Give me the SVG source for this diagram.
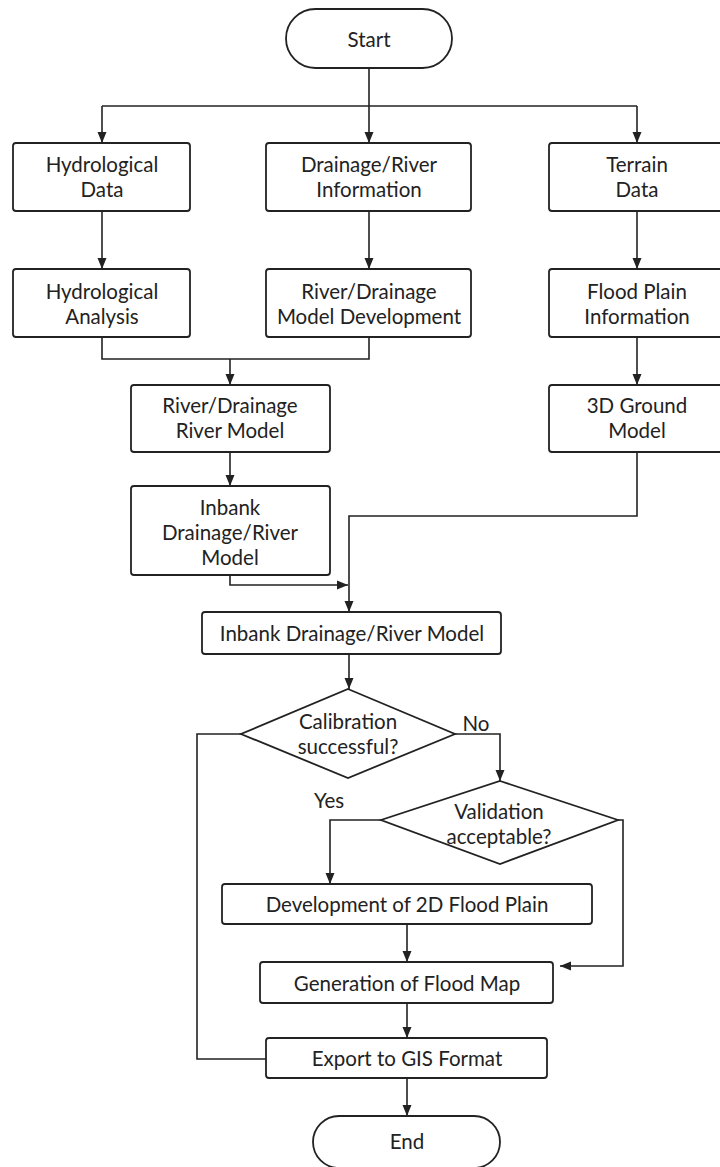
<svg xmlns="http://www.w3.org/2000/svg" width="720" height="1167" viewBox="0 0 720 1167">
<style>
.box{fill:#fff;stroke:#222;stroke-width:1.8}
.t{font-family:Lato,"Noto Sans",sans-serif;font-size:20.5px;fill:#222;text-anchor:middle;dominant-baseline:central}
.c{fill:none;stroke:#222;stroke-width:1.6}
</style>
<defs>
<marker id="ah" markerUnits="userSpaceOnUse" markerWidth="12" markerHeight="10" refX="11" refY="5" orient="auto">
<path d="M0,0.5 L11,5 L0,9.5 z" fill="#222"/>
</marker>
</defs>
<rect width="720" height="1167" fill="#fff"/>
<g id="connectors">
<path class="c" d="M369,68 V143" marker-end="url(#ah)"/>
<path class="c" d="M102,106 H637"/>
<path class="c" d="M102,106 V143" marker-end="url(#ah)"/>
<path class="c" d="M637,106 V143" marker-end="url(#ah)"/>
<path class="c" d="M102,211 V269" marker-end="url(#ah)"/>
<path class="c" d="M369,211 V269" marker-end="url(#ah)"/>
<path class="c" d="M637,211 V269" marker-end="url(#ah)"/>
<path class="c" d="M102,337 V359 H369 V337"/>
<path class="c" d="M230,359 V385" marker-end="url(#ah)"/>
<path class="c" d="M637,337 V385" marker-end="url(#ah)"/>
<path class="c" d="M230,452 V486" marker-end="url(#ah)"/>
<path class="c" d="M637,452 V516 H349 V612" marker-end="url(#ah)"/>
<path class="c" d="M230,575 V585 H348" marker-end="url(#ah)"/>
<path class="c" d="M349,654 V689" marker-end="url(#ah)"/>
<path class="c" d="M241,734 H197 V1059 H266"/>
<path class="c" d="M455,734 H500 V781" marker-end="url(#ah)"/>
<path class="c" d="M381,820 H330 V884" marker-end="url(#ah)"/>
<path class="c" d="M618,820 H623 V966 H560" marker-end="url(#ah)"/>
<path class="c" d="M407,924 V962" marker-end="url(#ah)"/>
<path class="c" d="M407,1003 V1038" marker-end="url(#ah)"/>
<path class="c" d="M407,1078 V1116" marker-end="url(#ah)"/>
<text class="t" x="476" y="723">No</text>
<text class="t" x="329" y="800">Yes</text>
</g>
<g id="start"><rect class="box" x="286" y="9" width="166" height="59" rx="29.5"/><text class="t" x="369" y="38.5">Start</text></g>
<g id="hydro-data"><rect class="box" x="13" y="143" width="177" height="68" rx="3"/><text class="t" x="102" y="164">Hydrological</text><text class="t" x="102" y="189">Data</text></g>
<g id="drainage-info"><rect class="box" x="266" y="143" width="205" height="68" rx="3"/><text class="t" x="369" y="164">Drainage/River</text><text class="t" x="369" y="189">Information</text></g>
<g id="terrain-data"><rect class="box" x="549" y="143" width="176" height="68" rx="3"/><text class="t" x="637" y="164">Terrain</text><text class="t" x="637" y="189">Data</text></g>
<g id="hydro-analysis"><rect class="box" x="13" y="269" width="177" height="68" rx="3"/><text class="t" x="102" y="291">Hydrological</text><text class="t" x="102" y="316">Analysis</text></g>
<g id="model-dev"><rect class="box" x="266" y="269" width="205" height="68" rx="3"/><text class="t" x="369" y="291">River/Drainage</text><text class="t" x="369" y="316">Model Development</text></g>
<g id="flood-plain-info"><rect class="box" x="549" y="269" width="176" height="68" rx="3"/><text class="t" x="637" y="291">Flood Plain</text><text class="t" x="637" y="316">Information</text></g>
<g id="river-model"><rect class="box" x="131" y="385" width="199" height="67" rx="3"/><text class="t" x="230" y="405">River/Drainage</text><text class="t" x="230" y="430">River Model</text></g>
<g id="ground-model"><rect class="box" x="549" y="385" width="176" height="67" rx="3"/><text class="t" x="637" y="405">3D Ground</text><text class="t" x="637" y="430">Model</text></g>
<g id="inbank-1"><rect class="box" x="131" y="486" width="199" height="89" rx="3"/><text class="t" x="230" y="506.5">Inbank</text><text class="t" x="230" y="531.5">Drainage/River</text><text class="t" x="230" y="556.5">Model</text></g>
<g id="inbank-2"><rect class="box" x="202" y="612" width="299" height="42" rx="3"/><text class="t" x="352" y="633">Inbank Drainage/River Model</text></g>
<g id="calibration"><polygon class="box" points="348,689 455,734 348,778 241,734"/><text class="t" x="348" y="721">Calibration</text><text class="t" x="348" y="746">successful?</text></g>
<g id="validation"><polygon class="box" points="500,781 618,820 500,864 381,820"/><text class="t" x="499" y="811">Validation</text><text class="t" x="499" y="836">acceptable?</text></g>
<g id="development"><rect class="box" x="222" y="884" width="370" height="40" rx="3"/><text class="t" x="407" y="904">Development of 2D Flood Plain</text></g>
<g id="generation"><rect class="box" x="260" y="962" width="293" height="41" rx="3"/><text class="t" x="407" y="982.5">Generation of Flood Map</text></g>
<g id="export"><rect class="box" x="266" y="1038" width="281" height="40" rx="3"/><text class="t" x="407" y="1058">Export to GIS Format</text></g>
<g id="end"><rect class="box" x="313" y="1116" width="187" height="52" rx="26"/><text class="t" x="407" y="1141">End</text></g>
</svg>
